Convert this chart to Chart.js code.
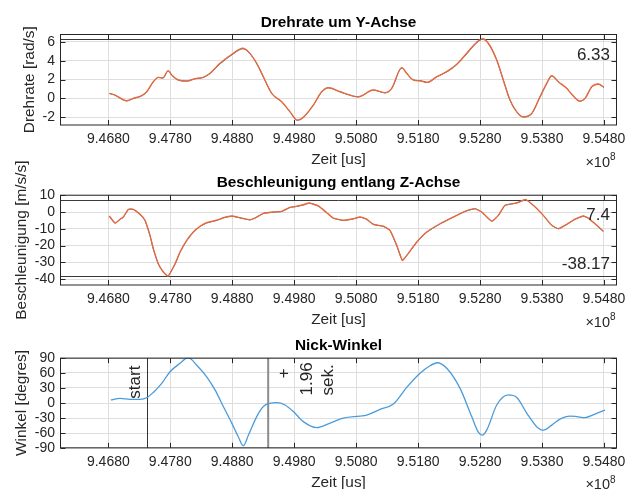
<!DOCTYPE html>
<html>
<head>
<meta charset="utf-8">
<script src="https://cdn.jsdelivr.net/npm/chart.js@4/dist/chart.umd.min.js"></script>
<style>
  html, body { margin: 0; padding: 0; background: #fff; overflow: hidden; }
  #wrap { position: relative; width: 635px; height: 489px; overflow: hidden; background: #fff; }
  #wrap canvas { position: absolute; left: 0; }
</style>
</head>
<body>
<div id="wrap">
  <canvas id="rate" width="635" height="190" style="top:-12px;width:635px;height:190px"></canvas>
  <canvas id="acc" width="635" height="190" style="top:151px;width:635px;height:190px"></canvas>
  <canvas id="angle" width="635" height="190" style="top:314px;width:635px;height:190px"></canvas>
</div>
<script>
// Time axis (units of 1e8 us) and its ticks
const xTicks = [9.468, 9.478, 9.488, 9.498, 9.508, 9.518, 9.528, 9.538, 9.548];
const xMin = 9.4602;
const xMax = 9.5501;

// Drehrate um Y-Achse [rad/s]
const rateTime = [9.46816, 9.46908, 9.47097, 9.47204, 9.47339, 9.4742, 9.47526, 9.47607, 9.47678, 9.47768,
  9.47823, 9.4793, 9.48065, 9.48199, 9.48333, 9.48441, 9.48603, 9.48818, 9.48969, 9.4906,
  9.49195, 9.49302, 9.49437, 9.49599, 9.49733, 9.4985, 9.49947, 9.50109, 9.50244, 9.50351,
  9.5054, 9.50754, 9.50835, 9.51077, 9.51266, 9.51374, 9.51536, 9.51616, 9.51723, 9.51831,
  9.51949, 9.521, 9.52262, 9.52423, 9.52585, 9.52746, 9.52843, 9.52933, 9.53069, 9.53175,
  9.53283, 9.53392, 9.53498, 9.53634, 9.53768, 9.53876, 9.53957, 9.54063, 9.54199, 9.54305,
  9.54413, 9.54494, 9.54602, 9.54709, 9.548];
const rateFiltered = [0.53, 0.35, -0.26, 0.00, 0.28, 0.70, 1.77, 2.23, 2.16, 2.94,
  2.48, 1.95, 1.84, 2.09, 2.23, 2.66, 3.72, 4.79, 5.32, 4.96,
  3.72, 2.30, 0.53, -0.36, -1.43, -2.31, -2.02, -0.71, 0.70, 1.13,
  0.70, 0.24, 0.17, 0.88, 0.60, 1.06, 3.26, 2.66, 1.95, 1.87,
  1.70, 2.30, 2.83, 3.62, 4.79, 5.96, 6.33, 5.85, 4.07, 1.95,
  -0.18, -1.43, -1.96, -1.60, 0.17, 1.60, 2.40, 1.77, 1.06, 0.24,
  -0.29, 0.00, 1.23, 1.52, 1.17];
const rateRaw = [0.52, 0.34, -0.27, 0.00, 0.27, 0.69, 1.75, 2.22, 2.15, 2.92,
  2.47, 1.94, 1.83, 2.08, 2.22, 2.63, 3.66, 4.72, 5.26, 4.92,
  3.70, 2.28, 0.52, -0.37, -1.44, -2.33, -2.03, -0.72, 0.69, 1.12,
  0.69, 0.23, 0.16, 0.87, 0.59, 1.05, 3.22, 2.64, 1.94, 1.86,
  1.69, 2.28, 2.80, 3.58, 4.72, 5.90, 6.27, 5.82, 4.05, 1.93,
  -0.19, -1.44, -1.98, -1.61, 0.16, 1.58, 2.37, 1.76, 1.05, 0.23,
  -0.30, -0.01, 1.21, 1.50, 1.16];
const rateTicks = [-2, 0, 2, 4, 6];
const rateMax = 6.33;

// Beschleunigung entlang Z-Achse [m/s/s]
const accTime = [9.46816, 9.46908, 9.46989, 9.47042, 9.47123, 9.47204, 9.47312, 9.47392, 9.47473, 9.47526,
  9.47607, 9.47688, 9.47764, 9.47877, 9.47957, 9.48065, 9.48172, 9.4828, 9.48388, 9.4855,
  9.48656, 9.48792, 9.48926, 9.49087, 9.49195, 9.49302, 9.49463, 9.49599, 9.49733, 9.49841,
  9.49947, 9.50044, 9.50189, 9.50325, 9.50432, 9.50593, 9.50754, 9.50862, 9.5097, 9.51077,
  9.51239, 9.51347, 9.51455, 9.51545, 9.51616, 9.51778, 9.51939, 9.52154, 9.52368, 9.52557,
  9.52718, 9.52827, 9.52988, 9.53095, 9.53203, 9.53392, 9.53537, 9.5366, 9.53821, 9.53957,
  9.54063, 9.54199, 9.54333, 9.54467, 9.54547, 9.54683, 9.54789];
const accFiltered = [-2.4, -6.5, -4.3, -3.0, 1.6, 1.6, -1.4, -4.9, -13.9, -21.8,
  -30.8, -35.7, -38.17, -30.8, -23.8, -16.9, -11.9, -8.5, -6.4, -4.9,
  -3.4, -2.4, -3.4, -4.6, -3.0, -0.8, 0.0, 0.4, 2.8, 3.4,
  4.3, 5.4, 3.6, -0.4, -3.6, -4.9, -4.0, -3.0, -4.3, -7.3,
  -8.5, -10.9, -19.8, -28.8, -25.8, -17.9, -11.9, -7.0, -3.0, 0.4,
  2.0, 0.0, -5.4, -2.0, 4.0, 5.4, 7.4, 4.0, -2.0, -7.9,
  -9.9, -7.3, -4.3, -2.4, -3.6, -7.9, -11.5];
const accRaw = [-2.6, -6.7, -4.4, -3.1, 1.4, 1.5, -1.5, -5.1, -14.2, -22.1,
  -31.0, -35.9, -38.1, -31.1, -24.0, -17.1, -12.0, -8.6, -6.5, -5.0,
  -3.5, -2.5, -3.5, -4.7, -3.1, -0.9, -0.1, 0.3, 2.7, 3.3,
  4.2, 5.3, 3.5, -0.5, -3.7, -5.0, -4.1, -3.1, -4.4, -7.4,
  -8.6, -11.1, -20.1, -28.6, -26.0, -18.1, -12.1, -7.1, -3.1, 0.3,
  1.9, -0.1, -5.5, -2.1, 3.9, 5.3, 7.3, 3.9, -2.1, -8.0,
  -10.0, -7.4, -4.4, -2.5, -3.7, -8.0, -11.6];
const accTicks = [-40, -30, -20, -10, 0, 10];
const accMax = 7.4;
const accMin = -38.17;

// Nick-Winkel [degrees]
const angleTime = [9.46839, 9.46989, 9.4715, 9.47312, 9.4742, 9.47526, 9.47662, 9.47796, 9.47957, 9.48091,
  9.48227, 9.48388, 9.48522, 9.48656, 9.48792, 9.48898, 9.48979, 9.4906, 9.49195, 9.49302,
  9.4941, 9.49518, 9.49652, 9.49786, 9.49947, 9.50164, 9.50378, 9.50593, 9.50862, 9.5097,
  9.51185, 9.514, 9.51616, 9.51831, 9.51992, 9.5211, 9.52262, 9.52477, 9.52665, 9.52772,
  9.52836, 9.52907, 9.53069, 9.53256, 9.53392, 9.53553, 9.53714, 9.53821, 9.53957, 9.5409,
  9.54252, 9.5436, 9.54494, 9.54655, 9.54816];
const angleValues = [6, 9.3, 7.4, 7.4, 10.5, 21, 39, 62, 79, 90,
  75, 52, 26, -7, -40, -67, -85, -64, -27, -7,
  -0.6, 0.6, -4, -17, -37, -49, -40, -30, -26, -24,
  -12.5, -2, 31, 59, 74, 80, 69, 29, -27, -58,
  -64, -54, -4, 16, 11, -20, -47, -54, -44, -32,
  -26, -27, -29, -22, -14];
const angleTicks = [-90, -60, -30, 0, 30, 60, 90];

// Evaluation window: start mark and its length in seconds
const windowStart = 9.4742;
const windowSeconds = 1.96;
const windowEnd = windowStart + windowSeconds / 100; // 1e8 us = 100 s

const FONT = '"Liberation Sans", Arial, Helvetica, sans-serif';
const INK = '#262626';
const BLUE = '#2a7fc4';
const ORANGE = '#E8683A';
Chart.defaults.font.family = FONT;
Chart.defaults.color = INK;

const CANVAS_H = 190;
const SHIFT = 12;   // canvases start a little higher so rotated labels are not cut

function pts(xs, ys) { return xs.map((x, i) => ({ x: x, y: ys[i] })); }

function vText(ctx, str, x, y, align) {
  ctx.save();
  ctx.translate(x, y);
  ctx.rotate(-Math.PI / 2);
  ctx.textAlign = align;
  ctx.textBaseline = 'alphabetic';
  ctx.fillText(str, 0, 0);
  ctx.restore();
}

// Per-panel decorations: reference lines, value labels, markers
const decor = {
  rate: {
    title: 'Drehrate um Y-Achse', titleDy: -11,
    hlines: [{ v: rateMax, label: String(rateMax), dy: 21 }]
  },
  acc: {
    title: 'Beschleunigung entlang Z-Achse', titleDy: -11.7,
    hlines: [{ v: accMax, label: String(accMax), dy: 20.4 }, { v: accMin, label: String(accMin), dy: -7 }]
  },
  angle: {
    title: 'Nick-Winkel', titleDy: -12.3,
    hlines: [],
    vlines: true
  }
};

const axesFrame = {
  id: 'axesFrame',
  beforeDatasetsDraw(chart) {
    const d = decor[chart.canvas.id];
    const { ctx, chartArea: a, scales } = chart;
    ctx.save();
    ctx.beginPath();
    ctx.rect(a.left, a.top, a.right - a.left, a.bottom - a.top);
    ctx.clip();
    d.hlines.forEach(h => {
      const y = Math.round(scales.y.getPixelForValue(h.v)) + 0.5;
      ctx.strokeStyle = '#3a3a3a';
      ctx.lineWidth = 1;
      ctx.beginPath(); ctx.moveTo(a.left, y); ctx.lineTo(a.right, y); ctx.stroke();
    });
    if (d.vlines) {
      const xs = Math.round(scales.x.getPixelForValue(windowStart)) + 0.5;
      ctx.strokeStyle = '#333333'; ctx.lineWidth = 1;
      ctx.beginPath(); ctx.moveTo(xs, a.top); ctx.lineTo(xs, a.bottom); ctx.stroke();
      const xe = scales.x.getPixelForValue(windowEnd);
      ctx.strokeStyle = '#8c8c8c'; ctx.lineWidth = 2;
      ctx.beginPath(); ctx.moveTo(xe, a.top); ctx.lineTo(xe, a.bottom); ctx.stroke();
    }
    ctx.restore();
  },
  afterDraw(chart) {
    const d = decor[chart.canvas.id];
    const { ctx, chartArea: a, scales } = chart;
    const L = a.left + 0.5, R = a.right - 0.5, T = a.top + 0.5, B = a.bottom - 0.5;
    ctx.save();
    // axes box
    ctx.strokeStyle = INK; ctx.lineWidth = 1;
    ctx.strokeRect(L, T, R - L, B - T);
    // inward tick marks on all four sides
    const tl = 5;
    ctx.beginPath();
    scales.x.ticks.forEach(t => {
      const x = Math.round(scales.x.getPixelForValue(t.value)) + 0.5;
      ctx.moveTo(x, B); ctx.lineTo(x, B - tl);
      ctx.moveTo(x, T); ctx.lineTo(x, T + tl);
    });
    scales.y.ticks.forEach(t => {
      const y = Math.round(scales.y.getPixelForValue(t.value)) + 0.5;
      ctx.moveTo(L, y); ctx.lineTo(L + tl, y);
      ctx.moveTo(R, y); ctx.lineTo(R - tl, y);
    });
    ctx.stroke();

    // title
    ctx.fillStyle = '#000';
    ctx.font = 'bold 15.4px ' + FONT;
    ctx.textAlign = 'center'; ctx.textBaseline = 'middle';
    ctx.fillText(d.title, (a.left + a.right) / 2, a.top + d.titleDy);

    // value labels of the reference lines
    ctx.fillStyle = INK;
    ctx.font = '17px ' + FONT;
    ctx.textAlign = 'right'; ctx.textBaseline = 'alphabetic';
    d.hlines.forEach(h => {
      ctx.fillText(h.label, a.right - 7, scales.y.getPixelForValue(h.v) + h.dy);
    });

    // exponent of the time axis
    ctx.font = '14.5px ' + FONT;
    ctx.textAlign = 'right';
    ctx.fillText('\u00d710', a.right - 7, a.bottom + 41);
    ctx.font = '10px ' + FONT;
    ctx.textAlign = 'left';
    ctx.fillText('8', a.right - 7, a.bottom + 34.5);

    // window annotations
    if (d.vlines) {
      ctx.font = '17px ' + FONT;
      ctx.fillStyle = INK;
      const xs = scales.x.getPixelForValue(windowStart);
      const xe = scales.x.getPixelForValue(windowEnd);
      vText(ctx, 'start', xs - 7.2, a.top + 41, 'left');
      vText(ctx, '+', xe + 21.2, a.top + 15.6, 'center');
      vText(ctx, windowSeconds.toFixed(2), xe + 44, a.top + 37.8, 'left');
      vText(ctx, 'sek.', xe + 65.3, a.top + 37.8, 'left');
    }
    ctx.restore();
  }
};

function makePanel(id, cfg) {
  // the first dataset is painted last (on top) by Chart.js
  const datasets = cfg.series.map(s => ({
    data: pts(s.x, s.y),
    borderColor: s.color,
    borderWidth: s.width,
    pointRadius: 0,
    fill: false,
    tension: s.tension,
    cubicInterpolationMode: s.cubic ? 'monotone' : 'default'
  }));
  const top = cfg.top + SHIFT, bottom = cfg.bottom + SHIFT;
  return new Chart(document.getElementById(id), {
    type: 'line',
    data: { datasets: datasets },
    options: {
      responsive: false,
      animation: false,
      devicePixelRatio: 1,
      layout: { padding: { top: top, left: 0, right: 18, bottom: 0 } },
      plugins: { legend: { display: false }, tooltip: { enabled: false }, title: { display: false } },
      scales: {
        x: {
          type: 'linear', min: xMin, max: xMax,
          afterBuildTicks: s => { s.ticks = xTicks.map(v => ({ value: v })); },
          afterFit: s => { s.height = CANVAS_H - bottom; },
          ticks: {
            autoSkip: false, maxRotation: 0, minRotation: 0, padding: 5.2,
            color: INK, font: { size: 14 },
            callback: v => Number(v).toFixed(4)
          },
          grid: { color: '#dedede', lineWidth: 1, drawTicks: false },
          border: { display: false },
          title: {
            display: true, text: 'Zeit [us]', color: INK, font: { size: 15.4 },
            padding: { top: 0, bottom: CANVAS_H - 9.24 - (bottom + 34) }
          }
        },
        y: {
          type: 'linear', min: cfg.yMin, max: cfg.yMax,
          afterBuildTicks: s => { s.ticks = cfg.yTicks.map(v => ({ value: v })); },
          afterFit: s => { s.width = 60; },
          ticks: { autoSkip: false, padding: 5, color: INK, font: { size: 14 } },
          grid: { color: '#dedede', lineWidth: 1, drawTicks: false },
          border: { display: false },
          title: {
            display: true, text: cfg.yLabel, color: INK, font: { size: 15.4 },
            padding: { top: cfg.yLabelPad, bottom: 0 }
          }
        }
      }
    },
    plugins: [axesFrame]
  });
}

makePanel('rate', {
  top: 34, bottom: 125.5, yMin: -2.88, yMax: 6.83, yTicks: rateTicks,
  yLabel: 'Drehrate [rad/s]', yLabelPad: 20.6,
  series: [
    { x: rateTime, y: rateFiltered, color: ORANGE, width: 1.4, tension: 0.4, cubic: true },
    { x: rateTime, y: rateRaw, color: BLUE, width: 1, tension: 0.4, cubic: true }
  ]
});

makePanel('acc', {
  top: 31.7, bottom: 122.5, yMin: -43.75, yMax: 10.3, yTicks: accTicks,
  yLabel: 'Beschleunigung [m/s/s]', yLabelPad: 13,
  series: [
    { x: accTime, y: accFiltered, color: ORANGE, width: 1.4, tension: 0.15, cubic: false },
    { x: accTime, y: accRaw, color: BLUE, width: 1, tension: 0.15, cubic: false }
  ]
});

makePanel('angle', {
  top: 31.7, bottom: 122.3, yMin: -90, yMax: 90, yTicks: angleTicks,
  yLabel: 'Winkel [degres]', yLabelPad: 13,
  series: [
    { x: angleTime, y: angleValues, color: '#4A9BDB', width: 1.3, tension: 0.4, cubic: true }
  ]
});
</script>
</body>
</html>
